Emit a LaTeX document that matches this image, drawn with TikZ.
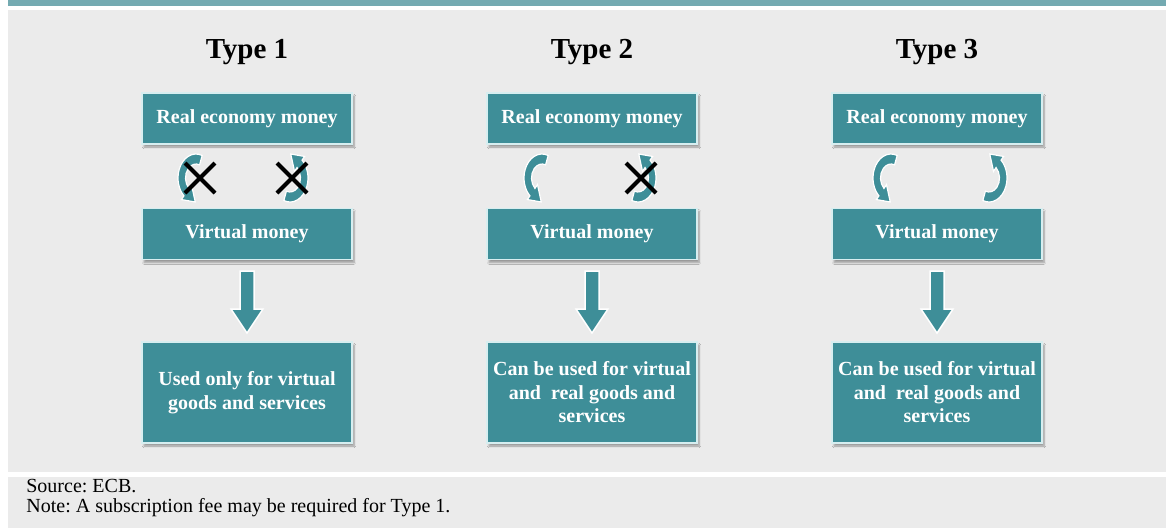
\documentclass[tikz,border=0pt]{standalone}
\usepackage{fontspec}
\setmainfont{Liberation Serif}
\usetikzlibrary{shadows.blur}

\definecolor{boxteal}{RGB}{62,142,152}
\definecolor{barteal}{RGB}{116,170,177}
\definecolor{panelgray}{RGB}{235,235,235}
\definecolor{rimcyan}{RGB}{215,238,240}

\frenchspacing
\tikzset{every picture/.style={line width=0.75pt}}
\tikzset{
  moneybox/.style={draw=rimcyan, line width=1.5pt, fill=boxteal, text=white,
    minimum width=210pt, minimum height=51pt, align=center,
    font=\bfseries\fontsize{20}{23.5}\selectfont,
    blur shadow={shadow xshift=2pt, shadow yshift=-3pt, shadow blur steps=6, shadow opacity=35}},
  typelabel/.style={font=\bfseries\fontsize{29}{32}\selectfont},
  footnote/.style={anchor=north west, inner sep=0pt, align=left, font=\fontsize{20}{20}\selectfont},
  flowarrow/.pic={
    \path[fill=boxteal, draw=white, line width=1.5pt] (-7,30) -- (7,30) -- (7,-8) -- (16,-8) -- (0,-32) -- (-16,-8) -- (-7,-8) -- cycle;
  },
  swirl/.pic={
    \begin{scope}[xscale=0.75]
    \path[fill=boxteal, draw=white, line width=1.2pt] (70:24) arc[start angle=70, end angle=228, radius=24] -- (228:29) -- (-1,-24) -- (228:9) -- (228:14) arc[start angle=228, end angle=70, radius=14] -- cycle;
    \end{scope}
  },
  blocked/.pic={
    \draw[line width=4pt] (-15,-15) -- (15,15) (-15,15) -- (15,-15);
  }
}

\begin{document}
\begin{tikzpicture}[x=1pt,y=1pt,yscale=-1,xscale=1]
\useasboundingbox (0,0) rectangle (1166,528);

% Background
\fill[white] (0,0) rectangle (1166,528);
\fill[barteal] (8,0) rectangle (1166,6);
\fill[panelgray] (8,10) rectangle (1166,472);
\fill[panelgray] (8,477) rectangle (1166,528);

% Type 1
\node[typelabel] (title1) at (247,52) {Type 1};
\node[moneybox] (real1) at (247,118.5) {Real economy money};
\node[moneybox] (virt1) at (247,234) {Virtual money};
\node[moneybox, minimum height=101pt] (use1) at (247,392.5) {Used only for virtual\\goods and services};
\pic at (196,178) {swirl};
\pic[rotate=180] at (290,178) {swirl};
\pic at (200,178) {blocked};
\pic at (292,178) {blocked};
\pic at (247,301) {flowarrow};

% Type 2
\node[typelabel] (title2) at (592,52) {Type 2};
\node[moneybox] (real2) at (592,118.5) {Real economy money};
\node[moneybox] (virt2) at (592,234) {Virtual money};
\node[moneybox, minimum height=101pt] (use2) at (592,392.5) {Can be used for virtual\\and~ real goods and~\\services};
\pic at (542,178) {swirl};
\pic[rotate=180] at (638,178) {swirl};
\pic at (641,178) {blocked};
\pic at (592,301) {flowarrow};

% Type 3
\node[typelabel] (title3) at (937,52) {Type 3};
\node[moneybox] (real3) at (937,118.5) {Real economy money};
\node[moneybox] (virt3) at (937,234) {Virtual money};
\node[moneybox, minimum height=101pt] (use3) at (937,392.5) {Can be used for virtual\\and~ real goods and~\\services};
\pic at (891,178) {swirl};
\pic[rotate=180] at (989,178) {swirl};
\pic at (937,301) {flowarrow};

% Footer
\node[footnote] (source) at (26,479) {Source: ECB.\\Note: A subscription fee may be required for Type 1.};

\end{tikzpicture}
\end{document}
